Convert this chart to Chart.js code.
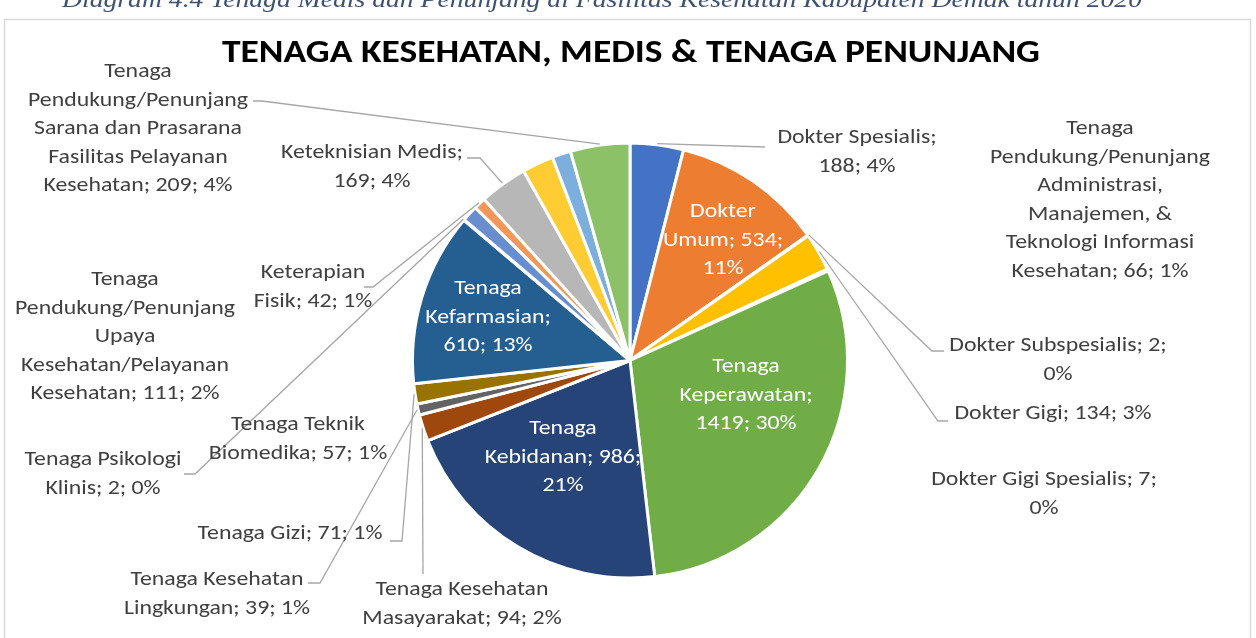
<!DOCTYPE html>
<html>
<head>
<meta charset="utf-8">
<script src="https://cdn.jsdelivr.net/npm/chart.js@4.4.1/dist/chart.umd.min.js"></script>
<style>
  html, body { margin: 0; padding: 0; background: #fff; }
  #wrap { width: 1256px; height: 638px; position: relative; }
</style>
</head>
<body>
<div id="wrap"><canvas id="pie" width="1256" height="638"></canvas></div>
<script>
// data
const categories = [
    "Dokter Spesialis",
    "Dokter Umum",
    "Dokter Subspesialis",
    "Dokter Gigi",
    "Dokter Gigi Spesialis",
    "Tenaga Keperawatan",
    "Tenaga Kebidanan",
    "Tenaga Kesehatan Masayarakat",
    "Tenaga Kesehatan Lingkungan",
    "Tenaga Gizi",
    "Tenaga Kefarmasian",
    "Tenaga Psikologi Klinis",
    "Tenaga Teknik Biomedika",
    "Keterapian Fisik",
    "Keteknisian Medis",
    "Tenaga Pendukung/Penunjang Upaya Kesehatan/Pelayanan Kesehatan",
    "Tenaga Pendukung/Penunjang Administrasi, Manajemen, & Teknologi Informasi Kesehatan",
    "Tenaga Pendukung/Penunjang Sarana dan Prasarana Fasilitas Pelayanan Kesehatan"
];
const values = [188, 534, 2, 134, 7, 1419, 986, 94, 39, 71, 610, 2, 57, 42, 169, 111, 66, 209];

const colors = ['#4472C4', '#ED7D31', '#A5A5A5', '#FFC000', '#5B9BD5', '#70AD47',
    '#264478', '#9E480E', '#636363', '#997300', '#255E91', '#43682B',
    '#698ED0', '#F1975A', '#B7B7B7', '#FFCD33', '#7CAFDD', '#8CC168'];

const chartTitle = "TENAGA KESEHATAN, MEDIS & TENAGA PENUNJANG";
const caption = "Diagram 4.4 Tenaga Medis dan Penunjang di Fasilitas Kesehatan Kabupaten Demak tahun 2020";

// label layout: centre of text block, words per line, leader elbow points
const labelLayout = [
    { x: 857, y: 138, words: [2, 2], lead: [[765, 147]] },
    { x: 723, y: 212, words: [1, 2, 1], inside: true },
    { x: 1058, y: 346, words: [3, 1], lead: [[932, 351], [944, 351]] },
    { x: 1053, y: 414, words: [4], lead: [[938, 421], [948, 421]] },
    { x: 1044, y: 480, words: [4, 1] },
    { x: 746, y: 367, words: [1, 1, 2], inside: true },
    { x: 563, y: 429, words: [1, 2, 1], inside: true },
    { x: 462, y: 590, words: [2, 3], lead: [[423, 574]] },
    { x: 217, y: 580, words: [2, 3], lead: [[320, 583], [308, 583]] },
    { x: 290, y: 534, words: [4], lead: [[402, 541], [390, 541]] },
    { x: 488, y: 289, words: [1, 1, 2], inside: true },
    { x: 103, y: 460, words: [2, 3], lead: [[195, 474], [184, 474]] },
    { x: 298, y: 425, words: [2, 3] },
    { x: 313, y: 273, words: [1, 3], lead: [[373, 287], [364, 287]] },
    { x: 372, y: 153, words: [2, 2], lead: [[480, 158], [467, 158]] },
    { x: 125, y: 280, words: [1, 1, 1, 1, 3] },
    { x: 1100, y: 129, words: [1, 1, 1, 2, 2, 3] },
    { x: 138, y: 72, words: [1, 1, 3, 2, 3], lead: [[262, 101], [253, 101]] }
];

const FONT = '"Carlito", "Open Sans", sans-serif';
const LINE_H = 28.5;

function labelLines(i, total) {
    const pct = Math.round(values[i] / total * 100);
    const words = (categories[i] + '; ' + values[i] + '; ' + pct + '%').split(' ');
    const lines = [];
    let k = 0;
    labelLayout[i].words.forEach(n => {
        lines.push(words.slice(k, k + n).join(' '));
        k += n;
    });
    return lines;
}

// draws text squeezed horizontally by sx
function squeezed(ctx, text, x, y, sx) {
    ctx.save();
    ctx.translate(x, y);
    ctx.scale(sx, 1);
    ctx.fillText(text, 0, 0);
    ctx.restore();
}

const pieLabels = {
    id: 'pieLabels',
    beforeDraw(chart) {
        const ctx = chart.ctx;
        ctx.save();
        // frame
        ctx.strokeStyle = '#D9D9D9';
        ctx.lineWidth = 1.5;
        ctx.strokeRect(4.5, 19.5, 1246, 640);

        // caption cut at the top
        ctx.fillStyle = '#3E5170';
        ctx.font = 'italic 24px "Liberation Serif", serif';
        ctx.textAlign = 'center';
        ctx.textBaseline = 'alphabetic';
        let w = ctx.measureText(caption).width;
        squeezed(ctx, caption, 602, 7, 1080 / w);

        // title
        ctx.fillStyle = '#000';
        ctx.font = 'bold 33px ' + FONT;
        w = ctx.measureText(chartTitle).width;
        squeezed(ctx, chartTitle, 631, 62, 818 / w);
        ctx.restore();
    },
    afterDatasetsDraw(chart) {
        const ctx = chart.ctx;
        const arcs = chart.getDatasetMeta(0).data;
        const total = values.reduce((a, b) => a + b, 0);
        ctx.save();
        ctx.font = '21px ' + FONT;
        const sx = 220 / ctx.measureText('Pendukung/Penunjang').width;
        ctx.textAlign = 'center';
        ctx.textBaseline = 'middle';

        labelLayout.forEach((lay, i) => {
            const arc = arcs[i];
            if (lay.lead) {
                const mid = (arc.startAngle + arc.endAngle) / 2;
                const r = arc.outerRadius + 1;
                ctx.beginPath();
                ctx.moveTo(arc.x + Math.cos(mid) * r, arc.y + Math.sin(mid) * r);
                lay.lead.forEach(p => ctx.lineTo(p[0], p[1]));
                ctx.strokeStyle = '#A6A6A6';
                ctx.lineWidth = 1.3;
                ctx.stroke();
            }
            ctx.fillStyle = lay.inside ? '#FFFFFF' : '#404040';
            labelLines(i, total).forEach((line, j) => {
                squeezed(ctx, line, lay.x, lay.y + j * LINE_H, sx);
            });
        });
        ctx.restore();
    }
};

new Chart(document.getElementById('pie'), {
    type: 'pie',
    data: {
        labels: categories,
        datasets: [{
            data: values,
            backgroundColor: colors,
            borderColor: '#FFFFFF',
            borderWidth: 3
        }]
    },
    options: {
        responsive: false,
        animation: false,
        layout: { padding: { top: 141, bottom: 58, left: 411, right: 407 } },
        plugins: {
            legend: { display: false },
            tooltip: { enabled: false },
            title: { display: false }
        }
    },
    plugins: [pieLabels]
});
</script>
</body>
</html>
